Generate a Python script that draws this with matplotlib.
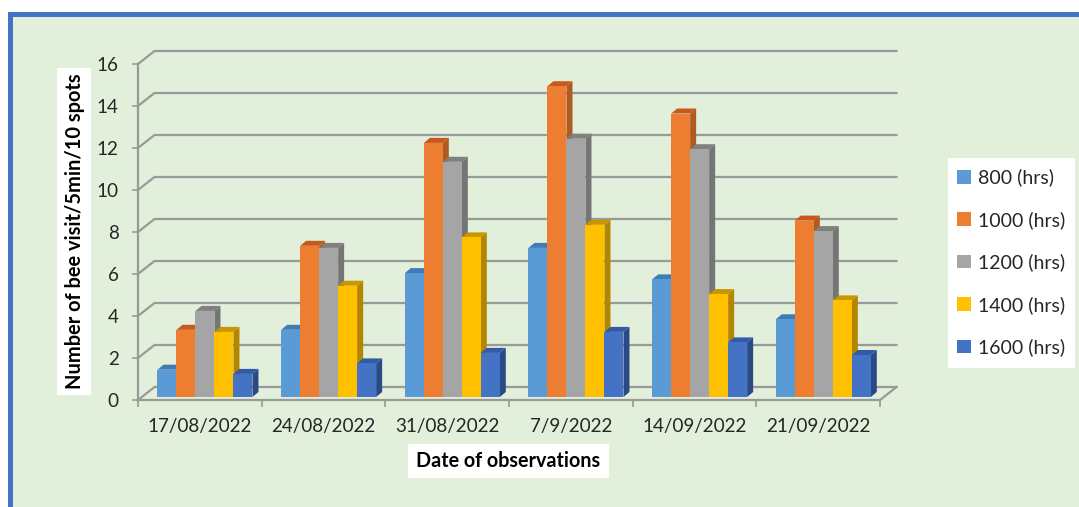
import matplotlib
matplotlib.use("Agg")
import matplotlib.pyplot as plt
from matplotlib.patches import Rectangle

plt.rcParams["font.family"] = ["Lato", "DejaVu Sans"]

fechas = ["17/08/2022", "24/08/2022", "31/08/2022", "7/9/2022", "14/09/2022", "21/09/2022"]
series = ["800 (hrs)", "1000 (hrs)", "1200 (hrs)", "1400 (hrs)", "1600 (hrs)"]
h800 = [1.3, 3.2, 5.9, 7.1, 5.6, 3.7]
h1000 = [3.2, 7.2, 12.1, 14.8, 13.5, 8.4]
h1200 = [4.1, 7.1, 11.2, 12.3, 11.8, 7.9]
h1400 = [3.1, 5.3, 7.6, 8.2, 4.9, 4.6]
h1600 = [1.1, 1.6, 2.1, 3.1, 2.6, 2.0]
valores = [h800, h1000, h1200, h1400, h1600]
yticks = list(range(0, 17, 2))

frente = ["#5B9BD5", "#ED7D31", "#A5A5A5", "#FFC000", "#4472C4"]
arriba = ["#3F7CB5", "#C55A1C", "#808080", "#C79600", "#335AA5"]
lado = ["#3A6C9E", "#AE5A21", "#757575", "#B38600", "#2A4A86"]
GRIS = "#999999"
TEXTO = "#262626"

W, H = 1079, 507
fig = plt.figure(figsize=(W / 100, H / 100), dpi=100, facecolor="white")


def caja(x0, y0, x1, y1, color):
    # rectangulo en pixeles de la imagen, y hacia abajo
    fig.add_artist(Rectangle((x0 / W, 1 - y1 / H), (x1 - x0) / W, (y1 - y0) / H,
                             transform=fig.transFigure, facecolor=color,
                             edgecolor="none", zorder=-5))


caja(8, 12, W, H, "#4472C4")
caja(13, 17, W, H, "#E2EFDA")
caja(57, 68, 91, 395, "white")
caja(408, 444, 609, 478, "white")
caja(948, 158, 1075, 368, "white")

ax = fig.add_axes([138 / W, 1 - 400 / H, 742 / W, 336 / H])
ax.patch.set_alpha(0)
ax.set_xlim(0, 6)
ax.set_ylim(0, 16)
for s in ax.spines.values():
    s.set_visible(False)

# profundidad de la pared y de las barras, en unidades de datos
fondo_x, fondo_y = 16.5 / 123.7, 13 / 21
prof_x, prof_y = 6 / 123.7, 5 / 21
base = 3 / 21
ancho = 19 / 123.7
margen = 19.5 / 123.7

for v in yticks:
    ax.plot([0, fondo_x, 6 + fondo_x], [v, v + fondo_y, v + fondo_y],
            color=GRIS, lw=1.6, clip_on=False, zorder=1)
ax.plot([0, 0], [0, 16], color=GRIS, lw=1.6, clip_on=False, zorder=1)
ax.plot([0, 6, 6 + fondo_x], [0, 0, fondo_y], color=GRIS, lw=1.6, clip_on=False, zorder=1)

ax.set_xticks(range(7))
ax.set_xticklabels([])
ax.set_xticks([i + 0.5 for i in range(6)], fechas, minor=True)
ax.set_yticks(yticks)
ax.tick_params(axis="x", which="major", length=5, width=1.2, color=GRIS)
ax.tick_params(axis="x", which="minor", length=0, pad=13, labelsize=13.6, labelcolor=TEXTO)
ax.tick_params(axis="y", length=4, width=1.2, color=GRIS, pad=10, labelsize=13.6, labelcolor=TEXTO)

barras = []
for j, vals in enumerate(valores):
    xs = [i + margen + j * ancho for i in range(6)]
    z = 2 + j
    for x, v in zip(xs, vals):
        # cara lateral y tapa
        ax.fill([x + ancho, x + ancho + prof_x, x + ancho + prof_x, x + ancho],
                [base, base + prof_y, base + v + prof_y, base + v],
                color=lado[j], lw=0, zorder=z, clip_on=False)
        ax.fill([x, x + prof_x, x + ancho + prof_x, x + ancho],
                [base + v, base + v + prof_y, base + v + prof_y, base + v],
                color=arriba[j], lw=0, zorder=z, clip_on=False)
    b = ax.bar(xs, vals, width=ancho, bottom=base, align="edge", color=frente[j],
               lw=0, zorder=z, label=series[j], clip_on=False)
    barras.append(b)

fig.text(75 / W, 1 - 231.5 / H, "Number of bee visit/5min/10 spots", rotation=90,
         ha="center", va="center", fontsize=14.4, fontweight="bold", color="black")
fig.text(508.5 / W, 1 - 461 / H, "Date of observations", ha="center", va="center",
         fontsize=14.2, fontweight="bold", color="black")

ley = fig.legend(barras, series, loc="center", bbox_to_anchor=(1011 / W, 1 - 262.5 / H),
                 frameon=False, fontsize=14, labelcolor=TEXTO, handlelength=0.7,
                 handleheight=0.7, handletextpad=0.35, labelspacing=1.26,
                 borderpad=0, borderaxespad=0)

fig.savefig("out.png", dpi=100)
